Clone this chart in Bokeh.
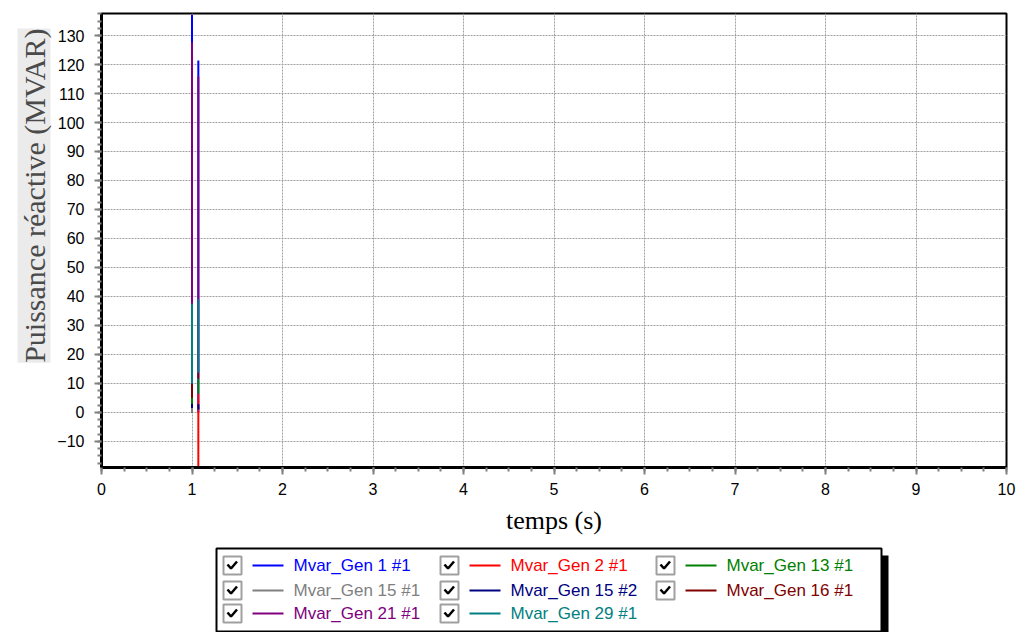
from bokeh.plotting import figure
from bokeh.layouts import column
from bokeh.models import FixedTicker, Range1d, Title
from bokeh.core.properties import value
from bokeh.embed import file_html
from bokeh.resources import INLINE

# ---------------- data ----------------
series_names = ["Mvar_Gen 1 #1", "Mvar_Gen 2 #1", "Mvar_Gen 13 #1",
                "Mvar_Gen 15 #1", "Mvar_Gen 15 #2", "Mvar_Gen 16 #1",
                "Mvar_Gen 21 #1", "Mvar_Gen 29 #1"]
series_colors = ["#0000ff", "#ff0000", "#008000", "#808080",
                 "#000080", "#800000", "#800080", "#008080"]
# times (s) of the two visible jumps
t_jump = [1.00, 1.07]
# MVAR range swept by each series at the first jump
jump1_low = [0.0, 0.0, 0.0, 0.0, 1.5, 5.0, 10.0, 10.0]
jump1_high = [137.2, 4.0, 5.0, 2.0, 3.0, 10.0, 127.7, 37.5]
# MVAR range swept by each series at the second jump
jump2_low = [0.0, -25.0, 6.5, 1.0, 1.0, 11.7, 13.8, 13.8]
jump2_high = [121.4, 6.5, 11.7, 2.0, 2.8, 13.8, 115.9, 39.0]

x_ticks = [0, 1, 2, 3, 4, 5, 6, 7, 8, 9, 10]
y_ticks = [-10, 0, 10, 20, 30, 40, 50, 60, 70, 80, 90, 100, 110, 120, 130]

# ---------------- main plot ----------------
p = figure(width=1021, height=545, x_range=Range1d(0, 10), y_range=Range1d(-19, 137.6),
           toolbar_location=None, output_backend="svg",
           min_border_left=101, min_border_right=15, min_border_top=13, min_border_bottom=78)
p.background_fill_color = "white"
p.border_fill_color = "white"
p.outline_line_color = "black"
p.outline_line_width = 2

for i in range(len(series_names)):
    p.segment(x0=t_jump, x1=t_jump,
              y0=[jump1_low[i], jump2_low[i]], y1=[jump1_high[i], jump2_high[i]],
              line_color=series_colors[i], line_width=2)

x_minor = [x / 4 for x in range(0, 41)]
y_minor = [-17.5 + 2.5 * k for k in range(0, 63)]
p.xaxis.ticker = FixedTicker(ticks=x_ticks, minor_ticks=x_minor)
p.yaxis.ticker = FixedTicker(ticks=y_ticks, minor_ticks=y_minor)

for ax in [p.xaxis[0], p.yaxis[0]]:
    ax.axis_line_color = "black"
    ax.axis_line_width = 3
    ax.major_tick_line_color = "#808080"
    ax.major_tick_line_width = 2
    ax.minor_tick_line_color = "#808080"
    ax.minor_tick_line_width = 2
    ax.major_tick_in = 0
    ax.major_tick_out = 7
    ax.minor_tick_in = 0
    ax.minor_tick_out = 4
    ax.major_label_text_font = "Liberation Sans"
    ax.major_label_text_font_size = "16px"
    ax.major_label_text_color = "black"

p.xaxis.major_label_standoff = 8
p.yaxis.major_label_standoff = 10
p.xaxis.axis_label = "temps (s)"
p.xaxis.axis_label_text_font = "Liberation Serif"
p.xaxis.axis_label_text_font_style = "normal"
p.xaxis.axis_label_text_font_size = "26px"
p.xaxis.axis_label_text_color = "black"
p.xaxis.axis_label_standoff = 8

# y-axis title as a side title (with its grey backdrop)
ytitle = Title(text="Puissance réactive (MVAR)", align="right",
               text_font="Liberation Serif", text_font_size="30px",
               text_font_style="normal", text_color="#4a4a4a",
               background_fill_color="#ebebeb", background_fill_alpha=1.0,
               offset=15, standoff=8)
p.add_layout(ytitle, "left")

p.xgrid.ticker = FixedTicker(ticks=x_ticks)
p.ygrid.ticker = FixedTicker(ticks=y_ticks)
p.grid.grid_line_color = "#a0a0a0"
p.grid.grid_line_width = 1
p.grid.grid_line_dash = "2 1"

# ---------------- legend panel ----------------
# the column layout aligns this panel's frame with the main frame (page x 101..1006)
lg = figure(width=1021, height=87, x_range=Range1d(101, 1006), y_range=Range1d(87, 0),
            toolbar_location=None, output_backend="svg", min_border=0,
            min_border_left=101, min_border_right=15,
            x_axis_type=None, y_axis_type=None)
lg.outline_line_color = None
lg.background_fill_color = "white"
lg.border_fill_color = "white"
for g in lg.grid:
    g.visible = False

lg.quad(left=[223], right=[888], top=[10], bottom=[95], fill_color="black", line_color=None)
lg.quad(left=[216], right=[881], top=[3], bottom=[86], fill_color="white",
        line_color="black", line_width=2)

col_x = [223, 440, 656]
row_y = [20, 45, 68]
for i, name in enumerate(series_names):
    cx = col_x[i % 3]
    ry = row_y[i // 3]
    lg.quad(left=[cx], right=[cx + 18], top=[ry - 9], bottom=[ry + 9],
            fill_color="white", line_color="#a0a0a0", line_width=2)
    lg.line(x=[cx + 4, cx + 7.5, cx + 13.5], y=[ry - 1, ry + 3, ry - 4],
            line_color="black", line_width=2.5)
    lg.line(x=[cx + 29, cx + 60], y=[ry, ry], line_color=series_colors[i], line_width=2)
    lg.text(x=[cx + 70], y=[ry], text=[name], text_color=series_colors[i],
            text_font=value("Liberation Sans"), text_font_size="17px",
            text_baseline="middle", text_align="left")

layout = column(p, lg, spacing=0)
open("out.html", "w").write(file_html(layout, INLINE))
